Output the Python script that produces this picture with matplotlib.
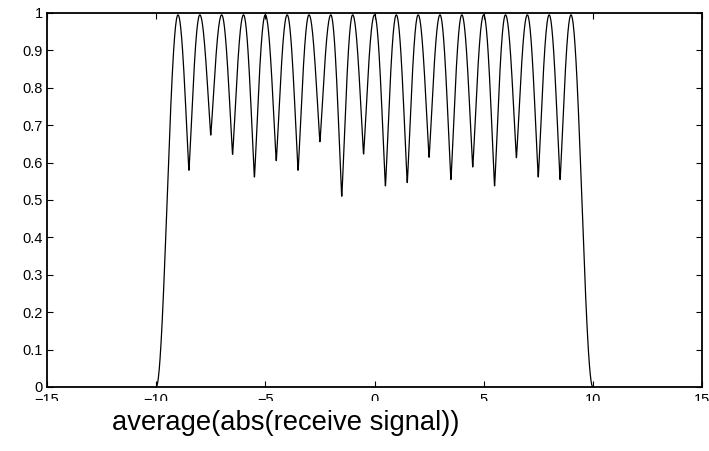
import numpy as np
import matplotlib
matplotlib.use("Agg")
import matplotlib.pyplot as plt
from matplotlib.patches import Rectangle

# --- data ---
peak_x = [-9, -8, -7, -6, -5, -4, -3, -2, -1, 0, 1, 2, 3, 4, 5, 6, 7, 8, 9]
peak_y = [0.995] * 19
trough_y = [0.576, 0.671, 0.619, 0.558, 0.602, 0.576, 0.653, 0.506, 0.620,
            0.534, 0.543, 0.611, 0.551, 0.585, 0.534, 0.610, 0.558, 0.551]
edge_x = [-10, 10]
x_ticks = [-15, -10, -5, 0, 5, 10, 15]
y_ticks = [0, 0.1, 0.2, 0.3, 0.4, 0.5, 0.6, 0.7, 0.8, 0.9, 1]
xlabel = "average(abs(receive signal))"

# --- build the curve from the knots ---
xs, ys = [], []
t = np.linspace(edge_x[0], peak_x[0], 80)
xs.append(t); ys.append(peak_y[0] * (1 - np.cos(np.pi * (t - edge_x[0]))) / 2)
for i in range(len(trough_y)):
    k0, k1 = peak_x[i], peak_x[i + 1]
    t = np.linspace(k0, k1, 120)
    p = np.interp(t, [k0, k1], [peak_y[i], peak_y[i + 1]])
    m = trough_y[i]
    c = np.abs(np.cos(np.pi * (t - k0) / (k1 - k0))) ** 1.1
    xs.append(t); ys.append(m + (p - m) * c)
t = np.linspace(peak_x[-1], edge_x[1], 80)
xs.append(t); ys.append(peak_y[-1] * (1 + np.cos(np.pi * (t - peak_x[-1]))) / 2)
X = np.concatenate(xs); Y = np.concatenate(ys)

plt.rcParams['font.family'] = ['Liberation Sans', 'DejaVu Sans']
fig = plt.figure(figsize=(7.09, 4.51), dpi=100)
ax = fig.add_axes([47 / 709, 1 - 387 / 451, 655 / 709, 374 / 451])
ax.plot(X, Y, color='black', lw=0.9)
ax.set_xlim(-15, 15)
ax.set_ylim(0, 1)
ax.set_xticks(x_ticks)
ax.set_xticklabels([str(v).replace('-', '\u2212') for v in x_ticks])
ax.set_yticks(y_ticks)
ax.set_yticklabels(['0', '0.1', '0.2', '0.3', '0.4', '0.5', '0.6', '0.7', '0.8', '0.9', '1'])
ax.tick_params(direction='in', length=4, width=0.8, top=True, right=True, labelsize=10.5)
ax.tick_params(axis='x', pad=4)
ax.tick_params(axis='y', pad=3)
for s in ax.spines.values():
    s.set_linewidth(1.3)

# white band that hides the lower half of the x tick labels (as in the reference)
fig.patches.append(Rectangle((0, 0), 1, 1 - 401 / 451, transform=fig.transFigure,
                             facecolor='white', edgecolor='none', zorder=10))
fig.text(286 / 709, 1 - 423 / 451, xlabel, ha='center', va='center', fontsize=19.7, zorder=11)

fig.savefig('out.png', dpi=100)
